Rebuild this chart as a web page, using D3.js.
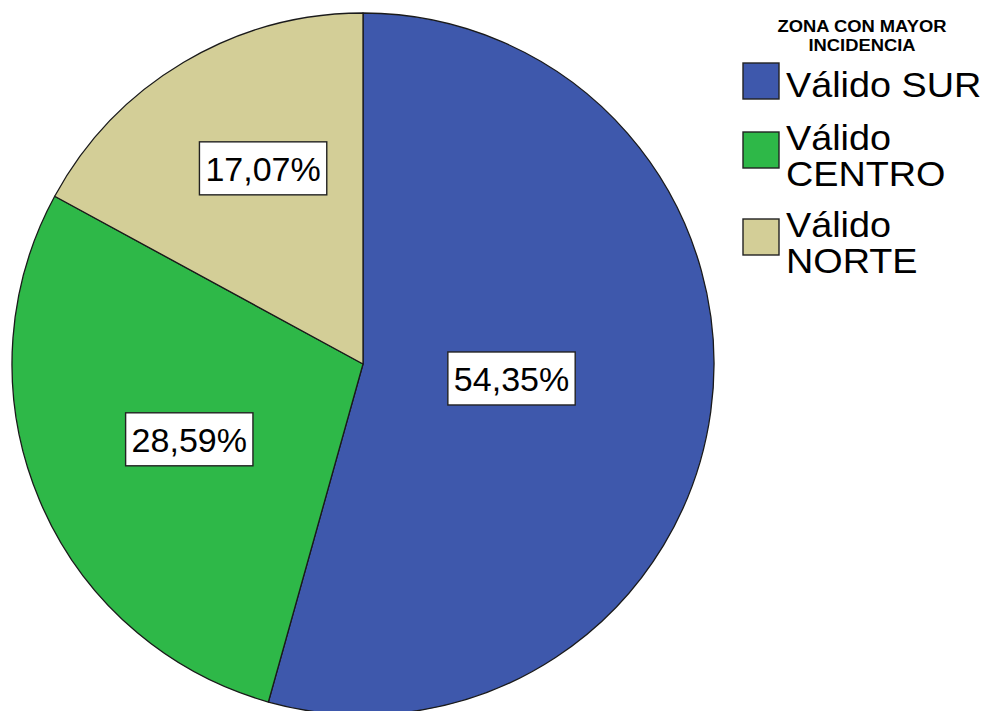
<!DOCTYPE html>
<html><head><meta charset="utf-8">
<script src="https://cdn.jsdelivr.net/npm/d3@7"></script>
<style>html,body{margin:0;padding:0;background:#fff;overflow:hidden}</style>
</head><body>
<svg id="chart" width="991" height="711"></svg>
<script>
const categories = ["Válido SUR", "Válido CENTRO", "Válido NORTE"];
const legendLines = [["Válido SUR"], ["Válido", "CENTRO"], ["Válido", "NORTE"]];
const values = [54.35, 28.59, 17.07];
const labels = ["54,35%", "28,59%", "17,07%"];
const colors = ["#3E58AC", "#2EB848", "#D3CE97"];
const legendTitle = ["ZONA CON MAYOR", "INCIDENCIA"];

const svg = d3.select("#chart");
const cx = 363, cy = 364, R = 351;
const g = svg.append("g").attr("transform", `translate(${cx},${cy})`);

const pie = d3.pie().sort(null).value(d => d)(values);
const arc = d3.arc().innerRadius(0).outerRadius(R);

g.selectAll("path.slice").data(pie).join("path")
  .attr("class", "slice")
  .attr("d", arc)
  .attr("fill", (d, i) => colors[i])
  .attr("stroke", "#1a1a1a")
  .attr("stroke-width", 1.3)
  .attr("stroke-linejoin", "round");

// labels near area centroid of each sector
const fs = 34;
const labelShift = [14, -4];
pie.forEach((d, i) => {
  const half = (d.endAngle - d.startAngle) / 2;
  const mid = (d.startAngle + d.endAngle) / 2;
  const dist = 2 * R * Math.sin(half) / (3 * half);
  const x = dist * Math.sin(mid) + labelShift[0], y = -dist * Math.cos(mid) + labelShift[1];
  const lg = g.append("g").attr("transform", `translate(${x},${y})`);
  const t = lg.append("text")
    .attr("text-anchor", "middle")
    .attr("dy", "0.36em")
    .attr("font-family", "Liberation Sans, Arial, sans-serif")
    .attr("font-size", fs)
    .attr("fill", "#000")
    .text(labels[i]);
  const bb = t.node().getBBox();
  lg.insert("rect", "text")
    .attr("x", bb.x - 6).attr("y", -26.5)
    .attr("width", bb.width + 12).attr("height", 53)
    .attr("fill", "#fff").attr("stroke", "#222").attr("stroke-width", 1.4);
});

// legend
svg.append("g").selectAll("text").data(legendTitle).join("text")
  .attr("text-anchor", "middle")
  .attr("transform", (d, i) => `translate(862,${32 + i * 18.5}) scale(1.08,1)`)
  .attr("font-family", "Liberation Sans, Arial, sans-serif")
  .attr("font-weight", "bold")
  .attr("font-size", 17)
  .text(d => d);

const lgX = 743;
const swY = [63, 132, 219];
const leg = svg.append("g");
categories.forEach((c, i) => {
  leg.append("rect").attr("x", lgX).attr("y", swY[i]).attr("width", 36).attr("height", 36)
    .attr("fill", colors[i]).attr("stroke", "#222").attr("stroke-width", 1.4);
  const lines = legendLines[i];
  lines.forEach((line, j) => {
    const y = swY[i] + (lines.length === 1 ? 34 : 18) + j * 36;
    leg.append("text")
      .attr("transform", `translate(786,${y}) scale(1.08,1)`)
      .attr("font-family", "Liberation Sans, Arial, sans-serif")
      .attr("font-size", 35).attr("fill", "#000")
      .text(line);
  });
});
</script>
</body></html>
